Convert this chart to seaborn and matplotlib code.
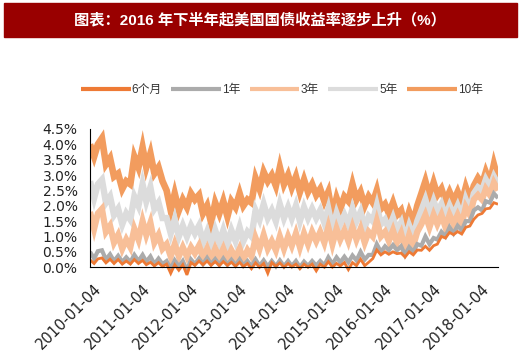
import numpy as np
import pandas as pd
import seaborn as sns
import matplotlib.pyplot as plt
import matplotlib.transforms as mtransforms
from matplotlib.patches import Rectangle
from matplotlib.ticker import FuncFormatter

sns.set_style("white")
plt.rcParams['font.family'] = ['Liberation Sans', 'Noto Sans CJK SC', 'DejaVu Sans']

# monthly readings, 2010-01 .. 2018-06 (%)
dates = pd.date_range('2010-01-01', periods=102, freq='MS') + pd.Timedelta(days=3)

y10 = [4.0, 3.6, 4.0, 4.2, 3.35, 3.55, 2.95, 3.05, 2.55, 2.8, 2.7, 3.6,
       3.25, 3.9, 3.25, 3.7, 3.05, 3.25, 2.8, 2.5, 1.85, 2.4, 1.85, 2.2,
       1.95, 2.4, 2.2, 2.35, 1.75, 2.0, 1.45, 2.1, 1.75, 2.15, 1.65, 2.15,
       1.95, 2.4, 2.0, 2.2, 2.1, 2.9, 2.55, 3.1, 2.8, 3.0, 2.65, 3.25,
       2.7, 3.0, 2.6, 2.95, 2.45, 2.85, 2.45, 2.7, 2.35, 2.55, 2.15, 2.45,
       1.7, 2.25, 1.9, 2.3, 2.15, 2.7, 2.2, 2.45, 2.0, 2.3, 2.1, 2.5,
       1.9, 2.05, 1.75, 2.1, 1.7, 1.85, 1.35, 1.8, 1.45, 2.0, 2.4, 2.8,
       2.3, 2.75, 2.35, 2.55, 2.15, 2.45, 2.15, 2.45, 2.1, 2.6, 2.2, 2.65,
       2.9, 2.7, 3.1, 2.75, 3.35, 2.85]
y5 = [2.8, 2.25, 2.7, 2.85, 2.1, 2.3, 1.7, 1.9, 1.4, 1.75, 1.55, 2.3,
      2.0, 2.7, 2.15, 2.6, 1.9, 2.1, 1.6, 1.6, 1.1, 1.55, 1.0, 1.35,
      1.0, 1.35, 1.1, 1.35, 0.8, 1.15, 0.7, 1.2, 0.8, 1.2, 0.75, 1.2,
      0.85, 1.3, 0.85, 1.15, 1.0, 1.85, 1.55, 2.05, 1.6, 1.85, 1.5, 2.05,
      1.6, 1.95, 1.6, 2.0, 1.5, 1.95, 1.6, 1.9, 1.6, 1.85, 1.45, 1.9,
      1.25, 1.75, 1.4, 1.7, 1.4, 1.9, 1.5, 1.8, 1.3, 1.65, 1.5, 2.0,
      1.4, 1.55, 1.25, 1.6, 1.2, 1.45, 0.9, 1.35, 1.0, 1.5, 1.85, 2.2,
      1.75, 2.15, 1.8, 2.05, 1.65, 2.0, 1.7, 2.0, 1.65, 2.2, 1.85, 2.4,
      2.6, 2.5, 2.85, 2.6, 2.95, 2.7]
y3 = [1.8, 1.25, 1.75, 1.9, 1.15, 1.35, 0.8, 1.05, 0.6, 0.9, 0.65, 1.25,
      0.9, 1.5, 1.05, 1.45, 0.8, 1.05, 0.6, 0.75, 0.35, 0.75, 0.35, 0.65,
      0.35, 0.65, 0.45, 0.7, 0.3, 0.6, 0.25, 0.6, 0.3, 0.6, 0.25, 0.55,
      0.3, 0.6, 0.25, 0.55, 0.35, 0.95, 0.6, 1.05, 0.6, 0.85, 0.55, 1.0,
      0.6, 1.0, 0.7, 1.1, 0.65, 1.1, 0.75, 1.15, 0.85, 1.15, 0.8, 1.3,
      0.75, 1.25, 0.9, 1.2, 0.85, 1.3, 0.9, 1.25, 0.8, 1.15, 1.0, 1.5,
      1.0, 1.15, 0.85, 1.2, 0.8, 1.1, 0.6, 1.05, 0.7, 1.15, 1.4, 1.7,
      1.3, 1.7, 1.4, 1.7, 1.3, 1.7, 1.4, 1.7, 1.4, 1.95, 1.7, 2.2,
      2.35, 2.2, 2.55, 2.35, 2.75, 2.5]
y1 = [0.5, 0.28, 0.52, 0.55, 0.25, 0.42, 0.2, 0.37, 0.17, 0.32, 0.17, 0.4,
      0.2, 0.4, 0.18, 0.35, 0.1, 0.28, 0.1, 0.2, -0.05, 0.22, 0.02, 0.2,
      -0.1, 0.25, 0.1, 0.28, 0.1, 0.3, 0.1, 0.26, 0.08, 0.28, 0.08, 0.24,
      0.06, 0.25, 0.05, 0.2, 0.03, 0.25, 0.04, 0.22, 0.02, 0.2, 0.03, 0.22,
      0.03, 0.2, 0.04, 0.2, 0.0, 0.18, 0.04, 0.2, 0.05, 0.2, 0.06, 0.32,
      0.1, 0.32, 0.16, 0.34, 0.16, 0.38, 0.22, 0.5, 0.25, 0.4, 0.4, 0.75,
      0.5, 0.68, 0.55, 0.72, 0.55, 0.68, 0.4, 0.65, 0.5, 0.75, 0.7, 1.0,
      0.75, 0.95, 0.9, 1.15, 1.0, 1.3, 1.1, 1.35, 1.2, 1.5, 1.5, 1.85,
      1.95, 1.85, 2.15, 2.1, 2.4, 2.25]
m6 = [0.24, 0.12, 0.27, 0.3, 0.14, 0.26, 0.12, 0.25, 0.1, 0.2, 0.1, 0.25,
      0.12, 0.22, 0.08, 0.16, 0.04, 0.15, 0.02, 0.1, -0.2, 0.08, -0.1, 0.08,
      -0.25, 0.15, 0.06, 0.2, 0.08, 0.2, 0.06, 0.18, 0.05, 0.18, 0.06, 0.16,
      0.03, 0.16, 0.02, 0.12, -0.05, 0.14, 0.0, 0.12, -0.2, 0.15, 0.03, 0.14,
      0.0, 0.12, 0.01, 0.1, -0.05, 0.1, 0.0, 0.1, -0.12, 0.1, 0.0, 0.18,
      0.0, 0.12, 0.04, 0.15, -0.08, 0.15, 0.05, 0.26, 0.05, 0.16, 0.28, 0.56,
      0.4, 0.5, 0.42, 0.5, 0.44, 0.46, 0.33, 0.5, 0.4, 0.56, 0.55, 0.68,
      0.55, 0.7, 0.75, 1.0, 0.95, 1.13, 1.06, 1.16, 1.08, 1.3, 1.34, 1.56,
      1.7, 1.75, 1.9, 1.92, 2.1, 2.05]

names = ['6个月', '1年', '3年', '5年', '10年']
series = [m6, y1, y3, y5, y10]
colors = ['#EE7A35', '#ABABAB', '#F8BF98', '#DCDCDC', '#F29C5E']
widths = [2, 3, 4.5, 4.6, 4.8]
tick_dates = pd.to_datetime(['%d-01-04' % y for y in range(2010, 2019)])

fig = plt.figure(figsize=(5.2, 3.51), dpi=100)
ax = fig.add_axes([90 / 520, 1 - 281 / 351, 408 / 520, 152 / 351])

# draw long tenors first so short ones sit on top
for name, vals, c, w in reversed(list(zip(names, series, colors, widths))):
    sns.lineplot(x=dates, y=vals, color=c, lw=w, label=name, ax=ax,
                 solid_joinstyle='miter', solid_capstyle='butt')

ax.set_xlim(dates[0], dates[-1])
ax.set_ylim(-0.45, 4.5)
ax.set_yticks(np.arange(0, 4.51, 0.5))
ax.yaxis.set_major_formatter(FuncFormatter(lambda v, p: '%.1f%%' % v))
ax.set_xticks(tick_dates)
ax.set_xticklabels([d.strftime('%Y-%m-%d') for d in tick_dates])
ax.set_xlabel('')
ax.set_ylabel('')
for s in ['top', 'right']:
    ax.spines[s].set_visible(False)
ax.spines['bottom'].set_position(('data', 0))
ax.spines['left'].set_bounds(0, 4.5)
ax.spines['bottom'].set_color('black')
ax.spines['left'].set_color('black')
ax.spines['bottom'].set_zorder(5)
ax.tick_params(axis='both', direction='in', length=4, color='black',
               labelsize=10, labelcolor='#222222')
ax.tick_params(axis='x', pad=10, labelsize=10.5)
ax.tick_params(axis='y', pad=9)
shift = mtransforms.ScaledTranslation(4 / 100, 0, fig.dpi_scale_trans)
for t in ax.get_xticklabels() + ax.get_yticklabels():
    t.set_fontfamily('DejaVu Sans')
for t in ax.get_xticklabels():
    t.set_transform(t.get_transform() + shift)
plt.setp(ax.get_xticklabels(), rotation=45, ha='right', va='top', rotation_mode='anchor')

h, l = ax.get_legend_handles_labels()
order = [l.index(n) for n in names]
ax.get_legend().remove()
fig.legend([h[i] for i in order], names, loc='center', bbox_to_anchor=(0.542, 1 - 90 / 351),
           ncol=5, frameon=False, fontsize=8.5, handlelength=4.2, handletextpad=0.1,
           columnspacing=0.8, labelcolor='#333333')
for lh in fig.legends[0].get_lines():
    lh.set_linewidth(3)

fig.patches.append(Rectangle((4 / 520, 1 - 37 / 351), 513 / 520, 34 / 351,
                             transform=fig.transFigure, color='#990000', zorder=0))
fig.text(0.5, 1 - 20 / 351, '图表：2016 年下半年起美国国债收益率逐步上升（%）',
         color='white', fontsize=11, fontweight='bold', ha='center', va='center')

fig.savefig('out.png', dpi=100)
